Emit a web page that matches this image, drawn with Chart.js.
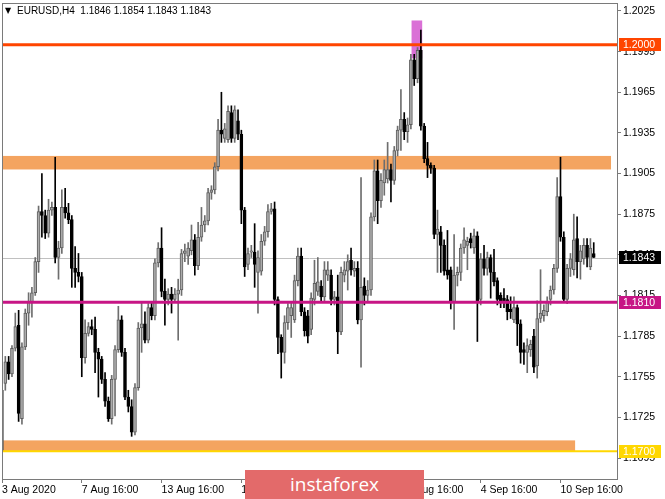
<!DOCTYPE html>
<html><head><meta charset="utf-8">
<script src="https://cdn.jsdelivr.net/npm/chart.js@4.4.0/dist/chart.umd.min.js"></script>
<style>
html,body{margin:0;padding:0;background:#fff;}
#wrap{position:relative;width:665px;height:499px;overflow:hidden;}
#wm{position:absolute;left:245px;top:470px;width:179px;height:29px;background:#E36A6A;color:#fff;font:19px 'Open Sans',sans-serif;text-align:center;line-height:28px;}
</style></head><body>
<div id="wrap"><canvas id="c" width="665" height="499"></canvas><div id="wm">instaforex</div></div>
<script>
const titleText = 'EURUSD,H4  1.1846 1.1854 1.1843 1.1843';
const opens = [1.1700,1.1750,1.1766,1.1757,1.1776,1.1793,1.1724,1.1777,1.1802,1.1810,
1.1817,1.1840,1.1877,1.1874,1.1861,1.1878,1.1880,1.1843,1.1850,1.1880,
1.1876,1.1871,1.1835,1.1832,1.1829,1.1769,1.1787,1.1792,1.1790,1.1773,
1.1768,1.1753,1.1737,1.1724,1.1753,1.1775,1.1797,1.1773,1.1740,1.1733,
1.1714,1.1747,1.1791,1.1794,1.1782,1.1806,1.1800,1.1839,1.1850,1.1818,
1.1812,1.1816,1.1812,1.1816,1.1819,1.1846,1.1844,1.1848,1.1856,1.1837,
1.1858,1.1867,1.1870,1.1891,1.1893,1.1910,1.1937,1.1931,1.1930,1.1950,
1.1931,1.1944,1.1934,1.1878,1.1838,1.1847,1.1847,1.1832,1.1833,1.1855,
1.1862,1.1877,1.1879,1.1812,1.1784,1.1773,1.1795,1.1800,1.1797,1.1826,
1.1844,1.1803,1.1800,1.1790,1.1812,1.1818,1.1822,1.1814,1.1830,1.1830,
1.1812,1.1814,1.1788,1.1830,1.1833,1.1841,1.1833,1.1835,1.1797,1.1822,
1.1815,1.1819,1.1873,1.1907,1.1885,1.1898,1.1901,1.1908,1.1900,1.1922,
1.1937,1.1945,1.1936,1.1941,1.1989,1.1975,1.1996,1.1940,1.1916,1.1911,
1.1909,1.1860,1.1862,1.1852,1.1834,1.1834,1.1810,1.1830,1.1832,1.1850,
1.1852,1.1857,1.1850,1.1859,1.1812,1.1842,1.1835,1.1843,1.1832,1.1826,
1.1815,1.1813,1.1812,1.1805,1.1797,1.1806,1.1794,1.1775,1.1773,1.1775,
1.1785,1.1763,1.1798,1.1800,1.1803,1.1812,1.1819,1.1835,1.1888,1.1858,
1.1812,1.1835,1.1834,1.1857,1.1840,1.1842,1.1852,1.1836,1.1846];
const highs = [1.1752,1.1770,1.1770,1.1778,1.1802,1.1804,1.1780,1.1805,1.1817,1.1821,
1.1843,1.1881,1.1905,1.1878,1.1886,1.1884,1.1917,1.1855,1.1893,1.1894,
1.1883,1.1874,1.1851,1.1846,1.1832,1.1797,1.1795,1.1797,1.1799,1.1776,
1.1770,1.1758,1.1740,1.1756,1.1778,1.1807,1.1800,1.1776,1.1745,1.1738,
1.1750,1.1795,1.1810,1.1803,1.1809,1.1810,1.1842,1.1854,1.1865,1.1827,
1.1820,1.1821,1.1820,1.1827,1.1849,1.1853,1.1854,1.1867,1.1860,1.1869,
1.1880,1.1874,1.1894,1.1896,1.1913,1.1945,1.1965,1.1942,1.1955,1.1955,
1.1955,1.1952,1.1937,1.1880,1.1850,1.1852,1.1868,1.1848,1.1860,1.1866,
1.1882,1.1883,1.1884,1.1814,1.1786,1.1800,1.1809,1.1810,1.1830,1.1850,
1.1850,1.1806,1.1804,1.1817,1.1841,1.1843,1.1826,1.1840,1.1840,1.1834,
1.1818,1.1830,1.1836,1.1840,1.1845,1.1850,1.1840,1.1840,1.1902,1.1828,
1.1826,1.1876,1.1915,1.1915,1.1905,1.1915,1.1928,1.1912,1.1925,1.1940,
1.1967,1.1950,1.1946,1.1993,1.1993,1.1998,1.2011,1.1942,1.1928,1.1913,
1.1911,1.1878,1.1866,1.1856,1.1863,1.1836,1.1860,1.1836,1.1853,1.1865,
1.1858,1.1861,1.1864,1.1862,1.1846,1.1852,1.1847,1.1845,1.1849,1.1828,
1.1817,1.1820,1.1815,1.1814,1.1814,1.1808,1.1797,1.1780,1.1783,1.1782,
1.1790,1.1811,1.1834,1.1808,1.1814,1.1822,1.1838,1.1902,1.1917,1.1862,
1.1838,1.1846,1.1875,1.1873,1.1852,1.1857,1.1857,1.1857,1.1854];
const lows = [1.1695,1.1745,1.1753,1.1755,1.1774,1.1722,1.1720,1.1775,1.1793,1.1799,
1.1815,1.1832,1.1858,1.1857,1.1858,1.1874,1.1839,1.1827,1.1846,1.1872,
1.1868,1.1821,1.1821,1.1825,1.1755,1.1765,1.1785,1.1786,1.1758,1.1740,
1.1750,1.1733,1.1722,1.1720,1.1726,1.1773,1.1770,1.1738,1.1729,1.1711,
1.1712,1.1745,1.1773,1.1780,1.1780,1.1797,1.1797,1.1836,1.1814,1.1793,
1.1808,1.1802,1.1810,1.1782,1.1815,1.1840,1.1838,1.1845,1.1830,1.1834,
1.1855,1.1862,1.1867,1.1886,1.1890,1.1907,1.1928,1.1928,1.1928,1.1928,
1.1928,1.1930,1.1868,1.1829,1.1834,1.1843,1.1821,1.1802,1.1830,1.1852,
1.1858,1.1875,1.1808,1.1772,1.1754,1.1765,1.1790,1.1784,1.1795,1.1822,
1.1800,1.1785,1.1780,1.1786,1.1808,1.1815,1.1810,1.1810,1.1826,1.1808,
1.1808,1.1772,1.1786,1.1825,1.1819,1.1830,1.1829,1.1794,1.1762,1.1808,
1.1810,1.1815,1.1870,1.1868,1.1880,1.1889,1.1898,1.1884,1.1897,1.1918,
1.1922,1.1930,1.1928,1.1938,1.1970,1.1972,1.1937,1.1913,1.1902,1.1905,
1.1857,1.1832,1.1832,1.1830,1.1827,1.1805,1.1790,1.1822,1.1826,1.1846,
1.1834,1.1850,1.1846,1.1781,1.1808,1.1830,1.1830,1.1813,1.1822,1.1808,
1.1806,1.1806,1.1797,1.1798,1.1795,1.1778,1.1765,1.1764,1.1758,1.1770,
1.1758,1.1754,1.1795,1.1796,1.1800,1.1808,1.1816,1.1832,1.1855,1.1810,
1.1809,1.1829,1.1830,1.1828,1.1827,1.1838,1.1836,1.1834,1.1843];
const closes = [1.1745,1.1766,1.1757,1.1776,1.1792,1.1728,1.1777,1.1802,1.1810,1.1817,
1.1840,1.1877,1.1874,1.1861,1.1878,1.1880,1.1843,1.1850,1.1880,1.1876,
1.1871,1.1835,1.1832,1.1829,1.1769,1.1787,1.1792,1.1790,1.1773,1.1768,
1.1753,1.1737,1.1724,1.1753,1.1775,1.1797,1.1773,1.1740,1.1733,1.1714,
1.1747,1.1791,1.1794,1.1782,1.1806,1.1800,1.1839,1.1850,1.1818,1.1812,
1.1816,1.1812,1.1816,1.1819,1.1846,1.1848,1.1850,1.1856,1.1837,1.1858,
1.1867,1.1870,1.1891,1.1893,1.1910,1.1937,1.1934,1.1938,1.1951,1.1931,
1.1952,1.1934,1.1878,1.1836,1.1846,1.1848,1.1838,1.1843,1.1855,1.1862,
1.1877,1.1879,1.1812,1.1784,1.1773,1.1795,1.1806,1.1806,1.1826,1.1844,
1.1803,1.1789,1.1785,1.1813,1.1824,1.1825,1.1814,1.1834,1.1834,1.1812,
1.1814,1.1788,1.1832,1.1834,1.1840,1.1834,1.1835,1.1797,1.1821,1.1815,
1.1819,1.1873,1.1907,1.1885,1.1900,1.1908,1.1908,1.1900,1.1922,1.1937,
1.1945,1.1936,1.1941,1.1989,1.1975,1.1996,1.1940,1.1916,1.1911,1.1909,
1.1860,1.1864,1.1852,1.1833,1.1830,1.1810,1.1830,1.1832,1.1850,1.1856,
1.1855,1.1854,1.1859,1.1810,1.1842,1.1835,1.1843,1.1832,1.1825,1.1812,
1.1811,1.1810,1.1803,1.1803,1.1806,1.1794,1.1773,1.1773,1.1778,1.1779,
1.1762,1.1798,1.1802,1.1804,1.1810,1.1819,1.1835,1.1888,1.1858,1.1812,
1.1835,1.1842,1.1856,1.1840,1.1848,1.1852,1.1843,1.1850,1.1843];

const chartShift = 7;
const yMin = 1.16795, yMax = 1.20309;
const yTicks = [1.2025,1.1995,1.1965,1.1935,1.1905,1.1875,1.1845,1.1815,1.1785,1.1755,1.1725,1.1695];
const xTickIdx = [0,24,48,72,96,120,144,168];
const xTickLabels = ['3 Aug 2020','7 Aug 16:00','13 Aug 16:00','19 Aug 16:00','25 Aug 16:00','31 Aug 16:00','4 Sep 16:00','10 Sep 16:00'];

const levels = [
  {value:1.2000, label:'1.2000', color:'#FF4500', width:3},
  {value:1.1810, label:'1.1810', color:'#C71585', width:3},
  {value:1.1700, label:'1.1700', color:'#FFD700', width:2}
];
const bid = {value:1.1843, label:'1.1843'};
const zones = [
  {from:1.1908, to:1.1918, endIdx:183.2, color:'#F4A460'},
  {from:1.1700, to:1.1708, endIdx:172.4, color:'#F4A460'}
];
const highlight = {from:1.1990, to:1.2018, startIdx:123.2, endIdx:126.4, color:'#DA70D6'};

const MON = ['Jan','Feb','Mar','Apr','May','Jun','Jul','Aug','Sep','Oct','Nov','Dec'];
function buildTimes(n){
  const out=[]; let t = Date.UTC(2020,7,3,16);
  while(out.length<n){
    const d=new Date(t); const wd=d.getUTCDay();
    if(wd!==0 && wd!==6){ out.push(d.getUTCDate()+' '+MON[d.getUTCMonth()]+' '+String(d.getUTCHours()).padStart(2,'0')+':00'); }
    t += 4*3600*1000;
  }
  return out;
}
const labels = buildTimes(opens.length + chartShift);
const bull = opens.map((o,i)=>closes[i]>=o);
const FONT = 'Liberation Sans';

const overlay = {
  id:'overlay',
  beforeDatasetsDraw(chart){
    const {ctx, chartArea:a, scales:{x,y}} = chart;
    ctx.save();
    ctx.beginPath(); ctx.rect(a.left,a.top,a.right-a.left,a.bottom-a.top); ctx.clip();
    zones.forEach(z=>{
      const y1=y.getPixelForValue(z.to), y2=y.getPixelForValue(z.from);
      ctx.fillStyle=z.color;
      ctx.fillRect(a.left, y1, x.getPixelForValue(z.endIdx)-a.left, y2-y1);
    });
    const h=highlight;
    const hy1=y.getPixelForValue(h.to), hy2=y.getPixelForValue(h.from);
    const hx1=x.getPixelForValue(h.startIdx), hx2=x.getPixelForValue(h.endIdx);
    ctx.fillStyle=h.color; ctx.fillRect(hx1,hy1,hx2-hx1,hy2-hy1);
    const by=Math.round(y.getPixelForValue(bid.value))+0.5;
    ctx.strokeStyle='#C0C0C0'; ctx.lineWidth=1;
    ctx.beginPath(); ctx.moveTo(a.left,by); ctx.lineTo(a.right,by); ctx.stroke();
    ctx.restore();
  },
  afterDatasetsDraw(chart){
    const {ctx, chartArea:a, scales:{y}} = chart;
    ctx.save();
    ctx.beginPath(); ctx.rect(a.left,a.top,a.right-a.left,a.bottom-a.top); ctx.clip();
    levels.forEach(l=>{
      const py=y.getPixelForValue(l.value);
      ctx.strokeStyle=l.color; ctx.lineWidth=l.width;
      ctx.beginPath(); ctx.moveTo(a.left,py); ctx.lineTo(a.right,py); ctx.stroke();
    });
    ctx.restore();
  },
  afterDraw(chart){
    const {ctx, chartArea:a, scales:{y}} = chart;
    ctx.save();
    ctx.strokeStyle='#7a7a7a'; ctx.lineWidth=1;
    ctx.strokeRect(a.left+0.5, a.top+0.5, a.right-a.left, a.bottom-a.top);
    const boxes = [...levels.map(l=>({value:l.value,label:l.label,color:l.color})), {value:bid.value,label:bid.label,color:'#000'}];
    ctx.font = '10.5px "'+FONT+'"';
    ctx.textBaseline='middle'; ctx.textAlign='left';
    boxes.forEach(b=>{
      const py=y.getPixelForValue(b.value);
      ctx.fillStyle=b.color;
      ctx.fillRect(a.right+2, Math.round(py-6.5), 42, 13);
      ctx.fillStyle='#fff';
      ctx.fillText(b.label, a.right+6, py+0.5);
    });
    ctx.fillStyle='#000';
    ctx.font='8px "DejaVu Sans"';
    ctx.fillText('\u25BC', 5, 11);
    ctx.font='10px "'+FONT+'"';
    ctx.fillText(titleText, 17, 11);
    ctx.restore();
  }
};

new Chart(document.getElementById('c'), {
  type:'bar',
  data:{labels, datasets:[
    {label:'body', data:opens.map((o,i)=>[o,closes[i]]),
     backgroundColor:bull.map(b=>b?'#ababab':'#000000'),
     borderColor:bull.map(b=>b?'#5e5e5e':'#000000'),
     borderWidth:1, borderSkipped:false, barThickness:3, minBarLength:1, grouped:false, order:0},
    {label:'wick', data:lows.map((l,i)=>[l,highs[i]]),
     backgroundColor:bull.map(b=>b?'#6e6e6e':'#000000'),
     borderWidth:0, barThickness:1, grouped:false, order:1}
  ]},
  options:{
    responsive:false, animation:false, devicePixelRatio:1,
    layout:{padding:{left:2, top:3, right:0, bottom:0}},
    plugins:{legend:{display:false}, tooltip:{enabled:false}, title:{display:false}},
    scales:{
      x:{type:'category', offset:false,
        grid:{display:true, offset:false, drawOnChartArea:false, drawTicks:true, tickLength:4, color:'#7a7a7a'},
        border:{display:false},
        afterBuildTicks:(ax)=>{ ax.ticks = xTickIdx.map(v=>({value:v})); },
        afterFit:(ax)=>{ ax.height=20; ax.paddingLeft=0; ax.paddingRight=0; },
        ticks:{autoSkip:false, maxRotation:0, minRotation:0, align:'start', padding:1, color:'#000',
          font:{family:FONT, size:10.5}, callback:(v,i)=>xTickLabels[i]}
      },
      y:{type:'linear', position:'right', min:yMin, max:yMax,
        grid:{display:true, drawOnChartArea:false, drawTicks:true, tickLength:4, color:'#7a7a7a'},
        border:{display:false},
        afterBuildTicks:(ax)=>{ ax.ticks = yTicks.map(v=>({value:v})); },
        afterFit:(ax)=>{ ax.width=48; ax.paddingTop=0; ax.paddingBottom=0; },
        ticks:{padding:2, color:'#000', font:{family:FONT, size:10.5}, callback:(v)=>Number(v).toFixed(4)}
      }
    }
  },
  plugins:[overlay]
});
</script>
</body></html>
